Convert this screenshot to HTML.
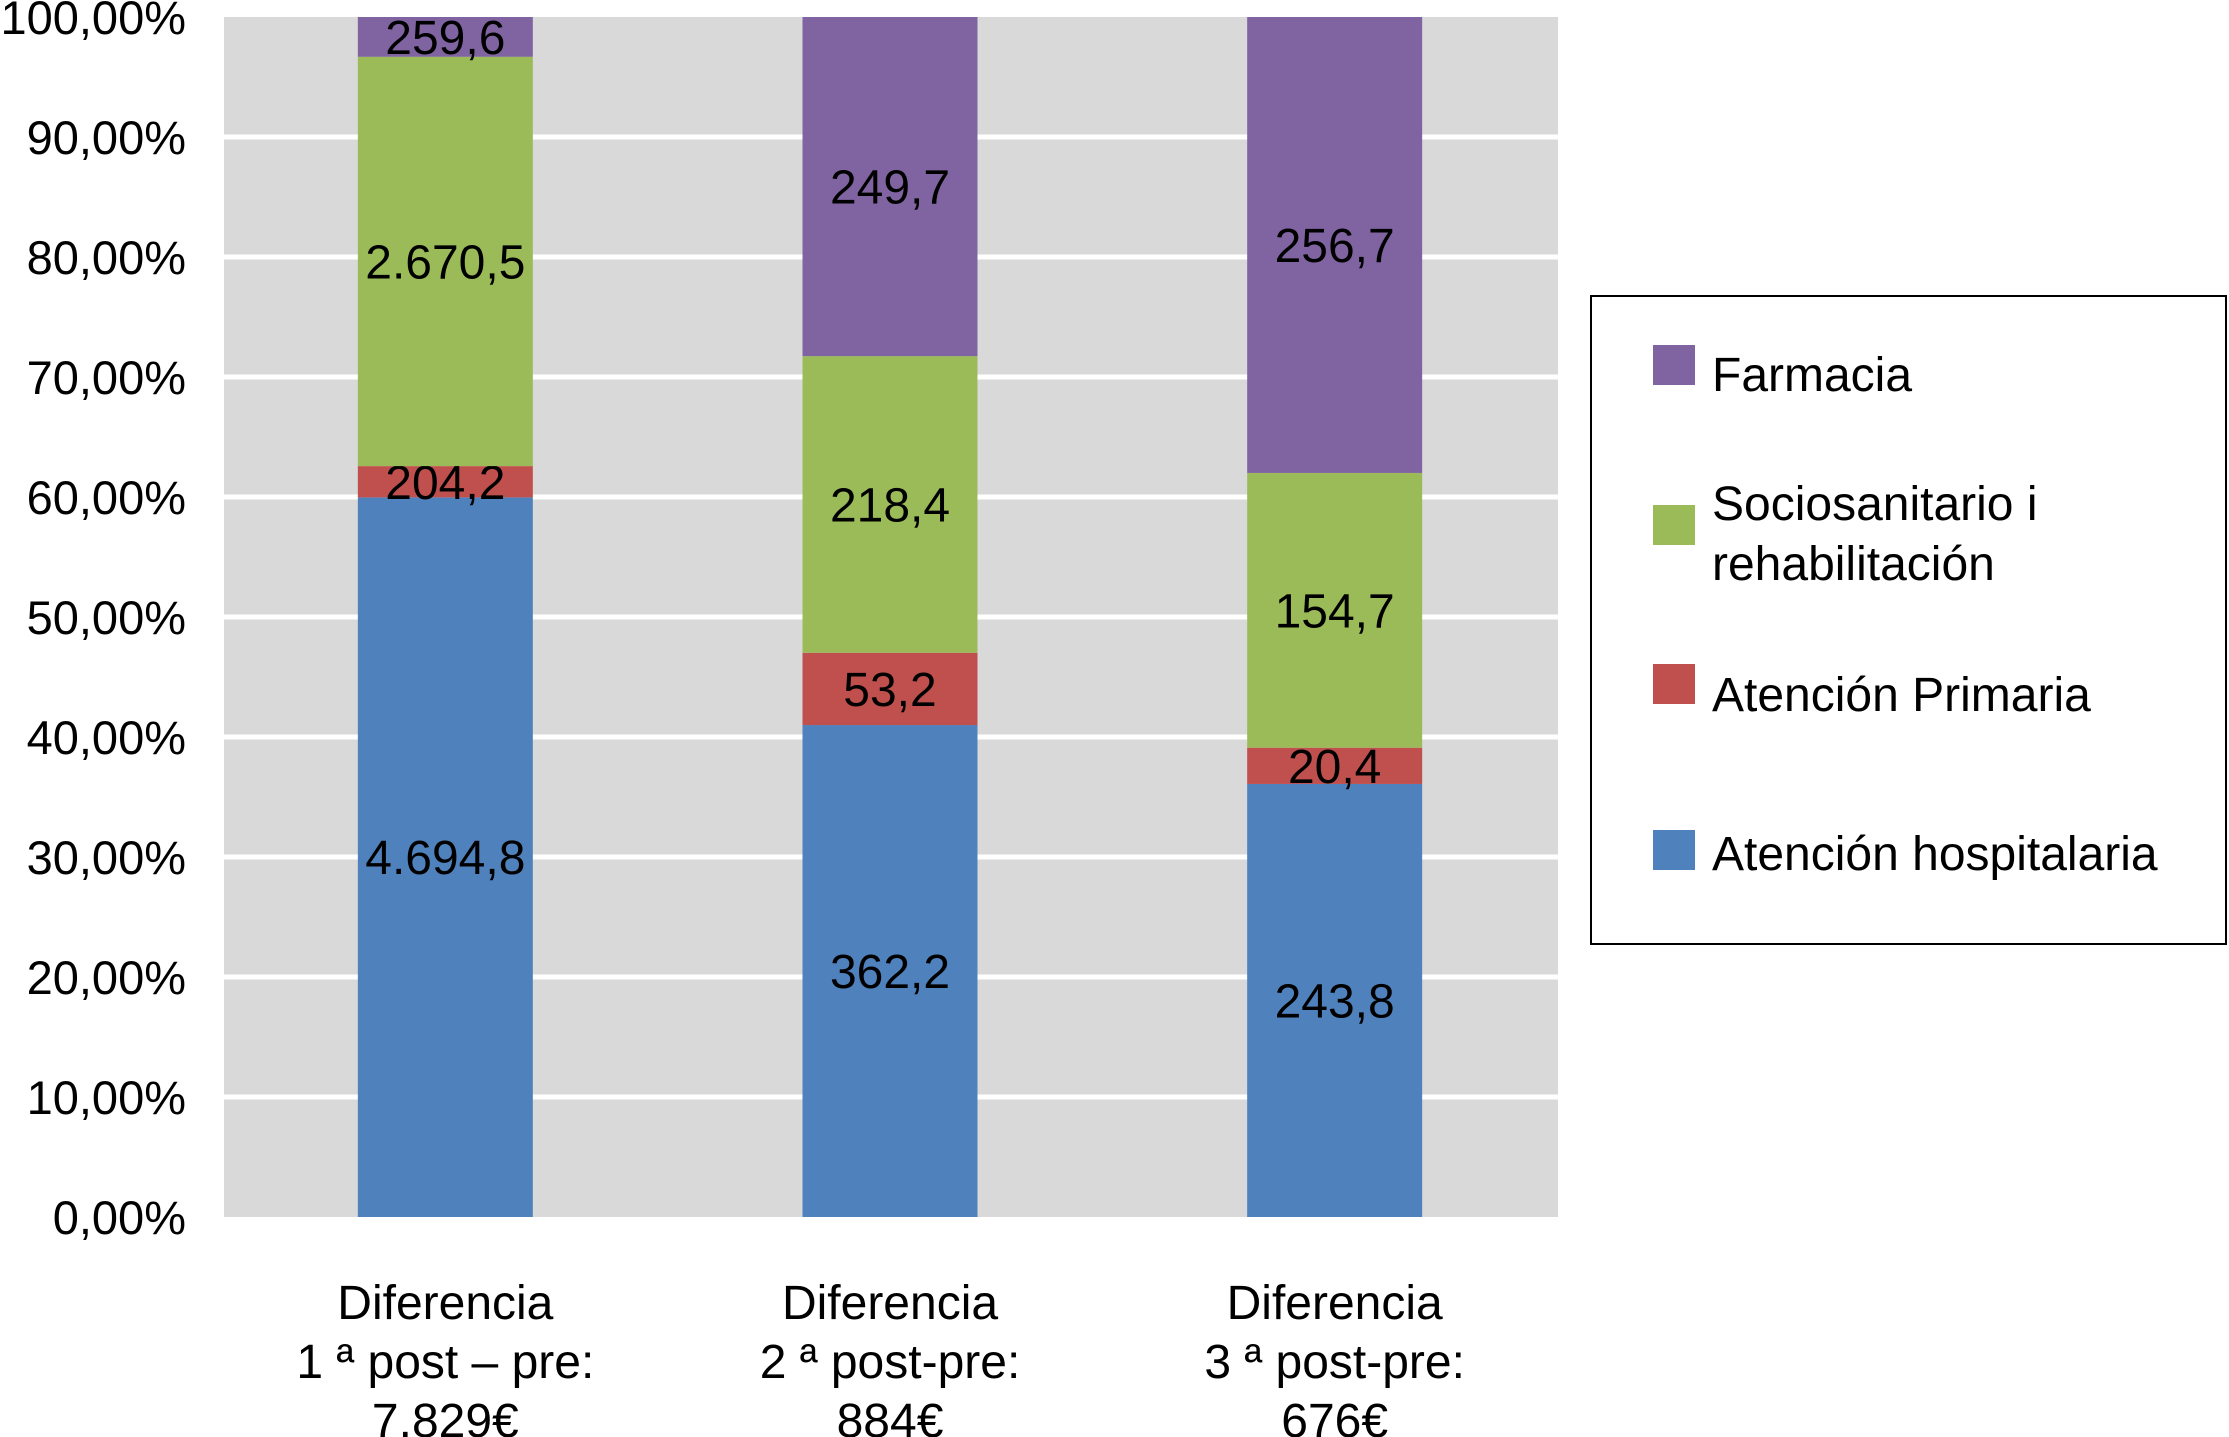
<!DOCTYPE html>
<html><head><meta charset="utf-8"><style>
html,body{margin:0;padding:0;background:#fff;}
svg{display:block;font-family:"Liberation Sans",Arial,sans-serif;}
</style></head><body>
<svg id="chart" width="2229" height="1437" viewBox="0 0 2229 1437" xmlns="http://www.w3.org/2000/svg">
<rect x="224" y="17" width="1334" height="1200" fill="#d9d9d9"/>
<g id="grid"></g><g id="bars"></g><g id="ylabels"></g><g id="xlabels"></g>
<g>
<rect x="1591" y="296" width="635" height="648" fill="#fff" stroke="#000" stroke-width="2"/>
<g><rect x="1653" y="345" width="42" height="40" fill="#8064a2"/><text x="1712" y="391" font-size="48">Farmacia</text></g>
<g><rect x="1653" y="505" width="42" height="40" fill="#9bbb59"/><text x="1712" y="520" font-size="48">Sociosanitario i</text><text x="1712" y="580" font-size="48">rehabilitación</text></g>
<g><rect x="1653" y="664" width="42" height="40" fill="#c0504d"/><text x="1712" y="711" font-size="48">Atención Primaria</text></g>
<g><rect x="1653" y="830" width="42" height="40" fill="#4f81bd"/><text x="1712" y="870" font-size="48">Atención hospitalaria</text></g>
</g>
</svg>
<script>
const categories=[["Diferencia","1 ª post – pre:","7.829€"],["Diferencia","2 ª post-pre:","884€"],["Diferencia","3 ª post-pre:","676€"]];
const hospitalaria=[4694.8,362.2,243.8];
const primaria=[204.2,53.2,20.4];
const socio=[2670.5,218.4,154.7];
const farmacia=[259.6,249.7,256.7];
const hospLabels=["4.694,8","362,2","243,8"];
const primLabels=["204,2","53,2","20,4"];
const socioLabels=["2.670,5","218,4","154,7"];
const farmLabels=["259,6","249,7","256,7"];
const yTicks=["0,00%","10,00%","20,00%","30,00%","40,00%","50,00%","60,00%","70,00%","80,00%","90,00%","100,00%"];

const NS="http://www.w3.org/2000/svg";
const L=224,R=1558,T=17,B=1217;
const y=p=>B-(B-T)*p/100;
const band=(R-L)/categories.length, bw=175;
const xc=i=>L+band*(i+0.5)-1;
function mk(tag,attrs,parent){const e=document.createElementNS(NS,tag);for(const k in attrs)e.setAttribute(k,attrs[k]);parent.appendChild(e);return e;}
const grid=document.getElementById('grid'),bars=document.getElementById('bars'),yl=document.getElementById('ylabels'),xl=document.getElementById('xlabels');
yTicks.forEach((t,i)=>{
  const p=i*10;
  if(i>0&&i<10){const g=mk('rect',{x:L,y:y(p)-2.5,width:R-L,height:5,fill:'#fff'},grid);
  
  }
  const tx=mk('text',{x:186,y:y(p)+17,'font-size':47,'text-anchor':'end'},yl);tx.textContent=t;
  
  
});
const series=[[hospitalaria,'#4f81bd',hospLabels,'hospitalaria'],[primaria,'#c0504d',primLabels,'primaria'],[socio,'#9bbb59',socioLabels,'sociosanitario'],[farmacia,'#8064a2',farmLabels,'farmacia']];
categories.forEach((c,i)=>{
  const tot=series.reduce((s,ser)=>s+ser[0][i],0);
  let acc=0;
  series.forEach(ser=>{
    const p0=acc/tot*100;acc+=ser[0][i];const p1=acc/tot*100;
    const r=mk('rect',{x:xc(i)-bw/2,y:y(p1),width:bw,height:y(p0)-y(p1),fill:ser[1]},bars);
    
    
    const t=mk('text',{x:xc(i),y:(y(p0)+y(p1))/2+17,'font-size':48,'text-anchor':'middle'},bars);
    t.textContent=ser[2][i];
    
    
  });
  c.forEach((line,j)=>{
    const t=mk('text',{x:xc(i),y:1319+j*59,'font-size':48,'text-anchor':'middle'},xl);
    t.textContent=line;
    
    
  });
});
</script>
</body></html>
